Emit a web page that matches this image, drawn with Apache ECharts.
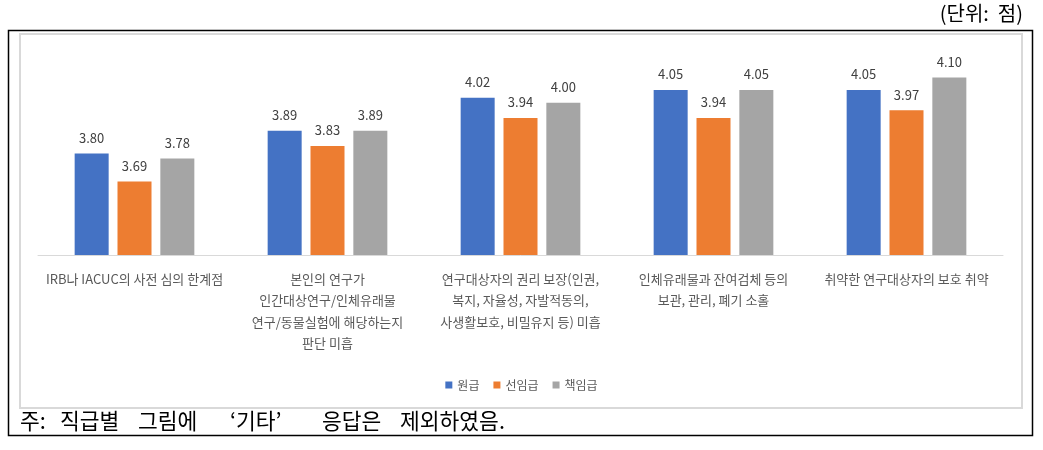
<!DOCTYPE html>
<html>
<head>
<meta charset="utf-8">
<script src="https://cdn.jsdelivr.net/npm/echarts@6/dist/echarts.min.js"></script>
<style>html,body{margin:0;padding:0;background:#fff;}#c{width:1043px;height:450px;}</style>
</head>
<body>
<div id="c"></div>
<script>
const categories = [
  "IRB나 IACUC의 사전 심의 한계점",
  "본인의 연구가\n인간대상연구/인체유래물\n연구/동물실험에 해당하는지\n판단 미흡",
  "연구대상자의 권리 보장(인권,\n복지, 자율성, 자발적동의,\n사생활보호, 비밀유지 등) 미흡",
  "인체유래물과 잔여검체 등의\n보관, 관리, 폐기 소홀",
  "취약한 연구대상자의 보호 취약"
];
const seriesNames = ["원급", "선임급", "책임급"];
const junior = [3.80, 3.89, 4.02, 4.05, 4.05];
const senior = [3.69, 3.83, 3.94, 3.94, 3.97];
const principal = [3.78, 3.89, 4.00, 4.05, 4.10];
const unitText = "(단위:  점)";
const noteWords = ["주:", "직급별", "그림에", "‘기타’", "응답은", "제외하였음."];
const noteWordX = [20, 60, 138, 230, 322, 400];

const colors = ["#4472C4", "#ED7D31", "#A5A5A5"];
const font = "'Noto Sans CJK KR', 'Noto Sans', sans-serif";

const chart = echarts.init(document.getElementById('c'), null, {renderer: 'canvas'});
const mk = (name, data, color) => ({
  name: name, type: 'bar', data: data, barWidth: 34, barGap: '26%',
  itemStyle: {color: color},
  label: {show: true, position: 'top', distance: 9, color: '#404040', fontSize: 13,
          fontFamily: font, formatter: p => p.value.toFixed(2)}
});
const noteGraphics = noteWords.map((w, i) => ({
  type: 'text', x: noteWordX[i], y: 421,
  style: {text: w, fill: '#000', font: "21.5px 'Noto Sans CJK KR', sans-serif", textVerticalAlign: 'middle', verticalAlign: 'middle'}
}));
chart.setOption({
  animation: false,
  textStyle: {fontFamily: font},
  grid: {left: 38, right: 40, top: 52, bottom: 195, containLabel: false},
  xAxis: {
    type: 'category', data: categories,
    axisLine: {lineStyle: {color: '#d9d9d9', width: 1}},
    axisTick: {show: false},
    axisLabel: {interval: 0, color: '#595959', fontSize: 13, lineHeight: 21.5, margin: 13, fontFamily: font}
  },
  yAxis: {type: 'value', min: 3.4, max: 4.2, show: false, splitLine: {show: false}},
  legend: {
    data: seriesNames, top: 374, left: 'center', icon: 'rect', itemWidth: 7, itemHeight: 7,
    itemGap: 14, textStyle: {color: '#595959', fontSize: 12, fontFamily: font}
  },
  series: [mk(seriesNames[0], junior, colors[0]), mk(seriesNames[1], senior, colors[1]), mk(seriesNames[2], principal, colors[2])],
  graphic: [
    {type: 'rect', shape: {x: 8.5, y: 30.5, width: 1024, height: 405}, style: {fill: 'none', stroke: '#000', lineWidth: 1.5}, silent: true, z: -1},
    {type: 'rect', shape: {x: 20, y: 34, width: 1002, height: 374}, style: {fill: 'none', stroke: '#d9d9d9', lineWidth: 2}, silent: true, z: -1},
    {type: 'text', right: 20, top: 3, style: {text: unitText, fill: '#000', font: "20px 'Noto Sans CJK KR', sans-serif"}}
  ].concat(noteGraphics)
});
</script>
</body>
</html>
